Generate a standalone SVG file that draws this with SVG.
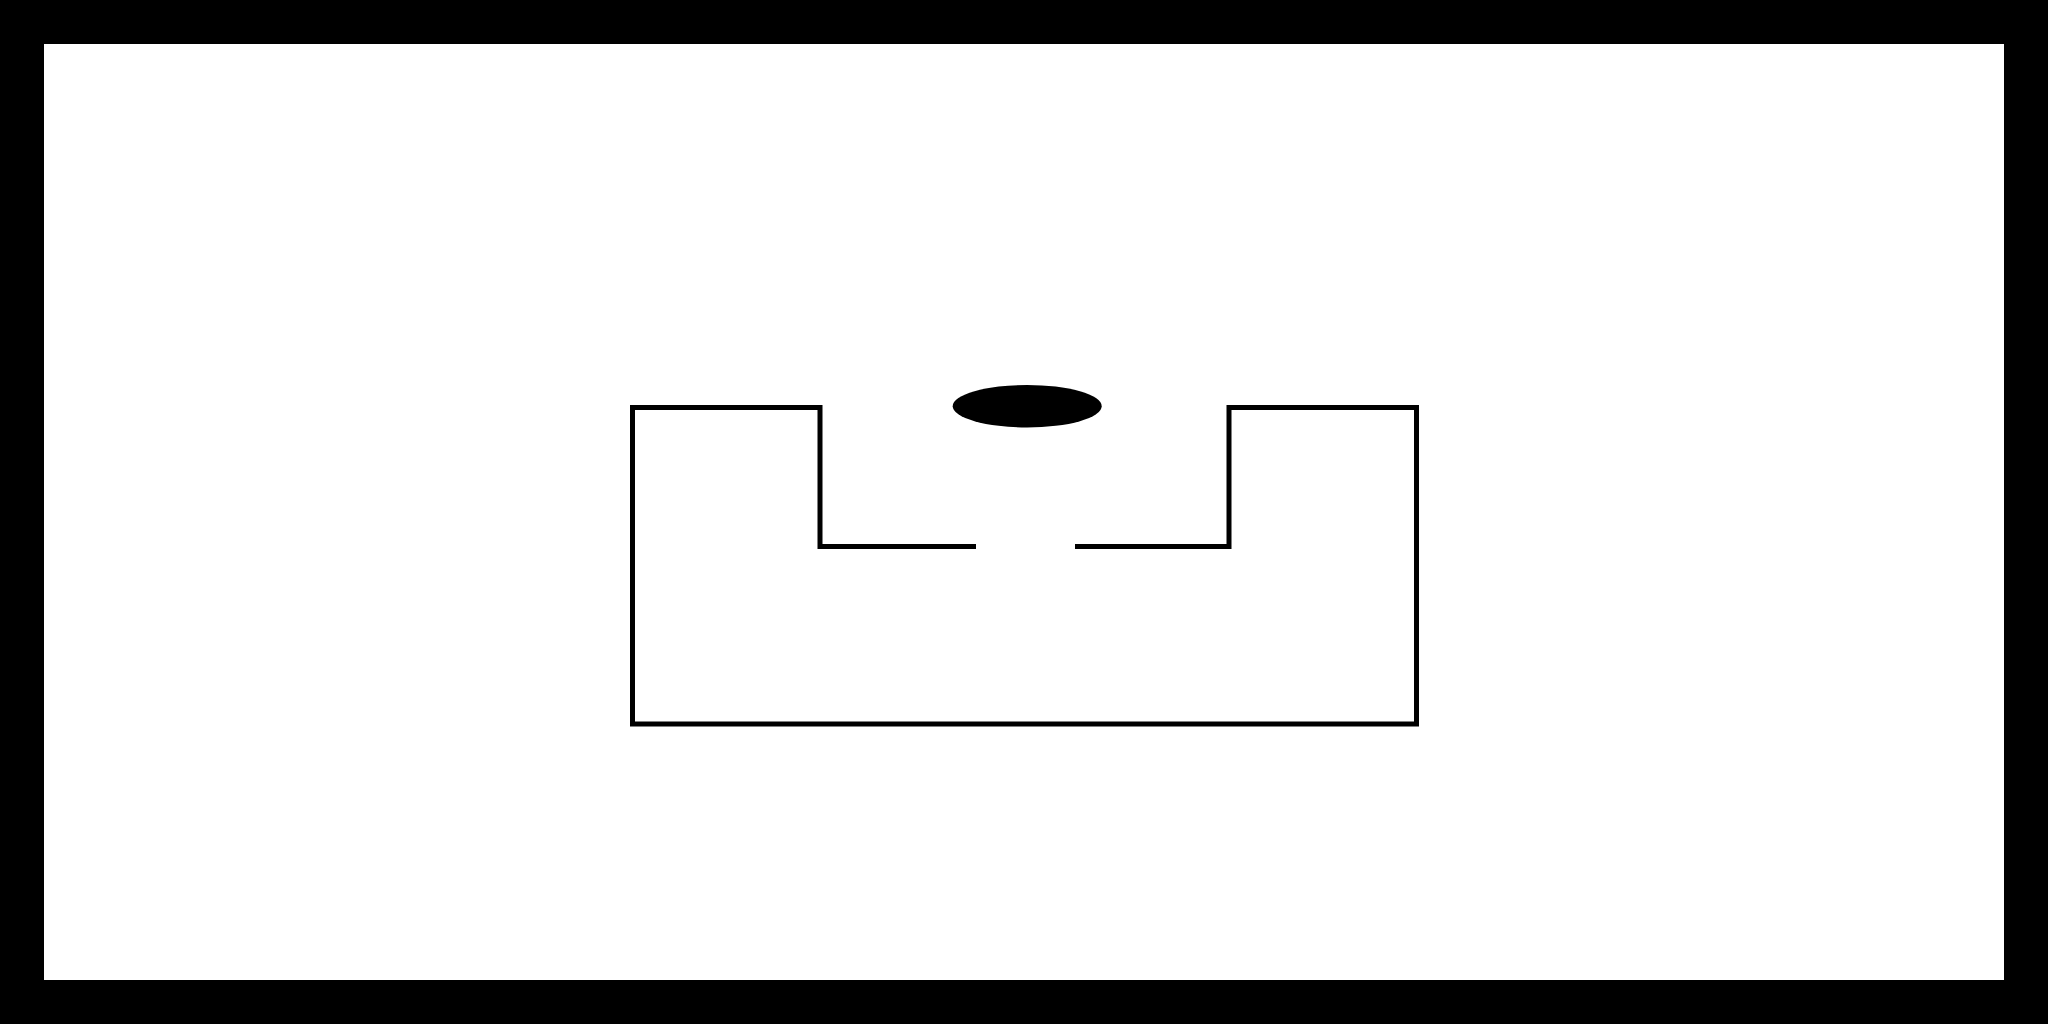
<svg xmlns="http://www.w3.org/2000/svg" width="2048" height="1024" viewBox="0 0 2048 1024">
<style>
.wall{fill:none;stroke:#000;stroke-width:5;stroke-linecap:butt;stroke-linejoin:miter}
</style>
<rect x="0" y="0" width="2048" height="1024" fill="#000"/>
<rect x="44" y="44" width="1960" height="936" fill="#fff"/>
<g id="container">
<path class="wall" d="M976,546.5 H820 V407.5 H632.5 V724 H1416.5 V407.5 H1229 V546.5 H1075"/>
</g>
<g id="disc">
<ellipse cx="1027.2" cy="406.2" rx="74.5" ry="21.2" fill="#000"/>
</g>
</svg>
